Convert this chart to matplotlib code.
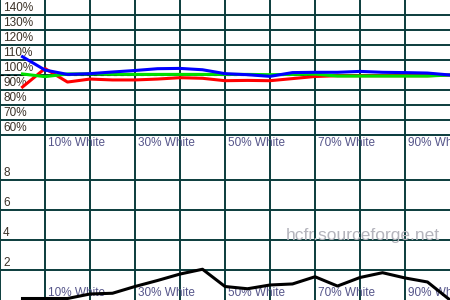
import matplotlib
matplotlib.use('Agg')
import matplotlib.pyplot as plt

plt.rcParams['font.family'] = ['Liberation Sans', 'DejaVu Sans']

# grayscale steps (% white)
pct = [5, 10, 15, 20, 25, 30, 35, 40, 45, 50,
       55, 60, 65, 70, 75, 80, 85, 90, 95, 100]

# RGB levels (%)
red = [92.0, 104.3, 95.3, 97.3, 96.7, 96.7, 97.3, 98.2, 97.8, 96.2,
       96.4, 96.2, 97.6, 99.0, 99.5, 99.5, 99.5, 99.5, 99.5, 100.0]
green = [100.7, 98.9, 100.7, 100.7, 100.5, 100.4, 100.4, 100.4, 100.4, 100.4,
         100.4, 100.2, 100.4, 100.6, 99.3, 99.3, 99.3, 99.3, 99.3, 100.0]
blue = [112.2, 103.3, 100.4, 100.9, 102.0, 103.0, 104.2, 104.4, 103.5, 100.9,
        100.2, 99.1, 101.6, 101.8, 101.8, 102.4, 101.8, 101.6, 101.3, 100.0]

# delta E
delta_e = [0.1, 0.1, 0.1, 0.4, 0.45, 0.9, 1.3, 1.73, 2.05, 0.9,
           0.75, 1.0, 1.07, 1.55, 0.93, 1.5, 1.82, 1.47, 1.2, 0.0]

rgb_ticks = [60, 70, 80, 90, 100, 110, 120, 130, 140]
de_ticks = [2, 4, 6, 8]
x_grid = [0, 10, 20, 30, 40, 50, 60, 70, 80, 90]
x_labels = [10, 30, 50, 70, 90]

grid_col = '#0b3c3c'
ylab_col = '#3c3228'
xlab_col = '#55558a'

fig = plt.figure(figsize=(4.5, 3), dpi=100)
ax1 = fig.add_axes([0, 0.5, 1, 0.5])
ax2 = fig.add_axes([0, 0, 1, 0.5])

for ax in (ax1, ax2):
    ax.set_axis_off()
    ax.set_xlim(0, 100)
    for x in x_grid:
        ax.axvline(x, color=grid_col, lw=1.4, zorder=1)
    for x in x_labels:
        ax.text(x + 0.7, 0.005, '%d%% White' % x, transform=ax.get_xaxis_transform(),
                fontsize=8.5, color=xlab_col, va='bottom', ha='left', zorder=2)

# top: RGB levels
ax1.set_ylim(50, 150)
for v in rgb_ticks:
    ax1.axhline(v, color=grid_col, lw=1.4, zorder=1)
    ax1.text(0.7, v + 0.8, '%d%%' % v, fontsize=8.5, color=ylab_col,
             va='bottom', ha='left', zorder=2)
ax1.axhline(100, color='black', lw=0.8, ls=(0, (3, 3)), zorder=3)
ax1.plot(pct, red, color='#ff0000', lw=2.2, zorder=4)
ax1.plot(pct, green, color='#00e000', lw=2.2, zorder=5)
ax1.plot(pct, blue, color='#0000ff', lw=2.2, zorder=6)

# bottom: delta E
ax2.set_ylim(0, 10)
for v in de_ticks:
    ax2.axhline(v, color=grid_col, lw=1.4, zorder=1)
    ax2.text(0.7, v + 0.08, '%d' % v, fontsize=8.5, color=ylab_col,
             va='bottom', ha='left', zorder=2)
ax2.text(97.8, 4.0, 'hcfr.sourceforge.net', fontsize=12.5, color='#b4b4bc',
         ha='right', va='baseline', zorder=2)
ax2.plot(pct, delta_e, color='black', lw=2.2, zorder=4)

fig.savefig('out.png', dpi=100)
